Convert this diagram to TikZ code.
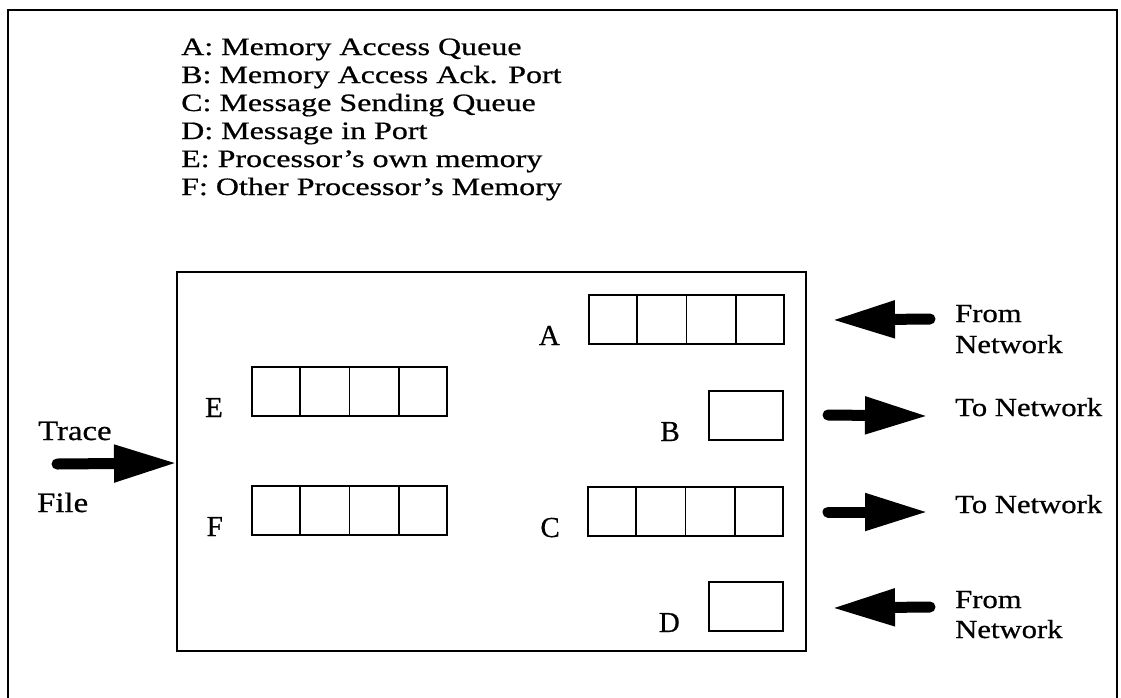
\documentclass[tikz,border=0pt]{standalone}
\usepackage{fontspec}
\setmainfont[FakeBold=0.6]{Liberation Serif}
\usepackage{graphicx}
\usetikzlibrary{calc,arrows.meta}
\tikzset{
  frameline/.style={line width=1.8pt},
  queue/.style={draw, line width=1.9pt, minimum width=195pt, minimum height=49pt, inner sep=0pt, anchor=south west},
  port/.style={draw, line width=1.9pt, minimum width=74pt, minimum height=49pt, inner sep=0pt, anchor=south west},
  cellline/.style={line width=1.7pt},
  legend/.style={anchor=base west, inner sep=0pt, font=\fontsize{25}{28}\selectfont},
  lbl/.style={anchor=base east, inner sep=0pt, font=\fontsize{29}{32}\selectfont},
  side/.style={anchor=base west, inner sep=0pt, font=\fontsize{28}{32}\selectfont},
  net/.style={anchor=base west, inner sep=0pt, font=\fontsize{26}{30}\selectfont},
  fat/.style={line width=11pt, line cap=round, -{Triangle[length=63pt,width=35pt]}},
}
\newcommand{\lx}[1]{\scalebox{1.28}[1]{#1}}
\newcommand{\sx}[1]{\scalebox{1.17}[1]{#1}}
\newcommand{\nx}[1]{\scalebox{1.18}[1]{#1}}
\begin{document}
\begin{tikzpicture}[x=1pt,y=-1pt]
\useasboundingbox (0,0) rectangle (1121,697);
% outer frame (open at the bottom edge of the picture)
\draw[frameline] (8,705) -- (8,10) -- (1117,10) -- (1117,705);

% legend
\node[legend] (l1) at (181,55)  {\lx{A: Memory Access Queue}};
\node[legend] (l2) at (181,83)  {\lx{B: Memory Access Ack. Port}};
\node[legend] (l3) at (181,111) {\lx{C: Message Sending Queue}};
\node[legend] (l4) at (181,139) {\lx{D: Message in Port}};
\node[legend] (l5) at (181,167) {\lx{E: Processor's own memory}};
\node[legend] (l6) at (181,195) {\lx{F: Other Processor's Memory}};

% processor box
\draw[line width=2pt] (177,272) rectangle (806,651);
\coordinate (inwest) at (177,463);

% queues and ports
\node[queue] (qa) at (588,345) {};
\node[port]  (qb) at (708,441) {};
\node[queue] (qc) at (587,537) {};
\node[port]  (qd) at (708,632) {};
\node[queue] (qe) at (251,417) {};
\node[queue] (qf) at (251,536) {};
\foreach \n in {qa,qc,qe,qf}
  \foreach \i in {1,2,3}
    \draw[cellline] ($(\n.north west)!\i/4!(\n.north east)$) -- ($(\n.south west)!\i/4!(\n.south east)$);

% labels
\node[lbl] (la) at ($(qa.south west)+(-28,0)$) {A};
\node[lbl] (lb) at ($(qb.south west)+(-28,0)$) {B};
\node[lbl] (lc) at ($(qc.south west)+(-27,0)$) {C};
\node[lbl] (ld) at ($(qd.south west)+(-28,0)$) {D};
\node[lbl] (le) at ($(qe.south west)+(-28,0)$) {E};
\node[lbl] (lf) at ($(qf.south west)+(-28,0)$) {F};

% trace file input
\node[side] (trace) at (38,440) {\sx{Trace}};
\node[side] (file)  at (37,512) {\sx{File}};
\coordinate (ts) at (57,464);
\draw[fat] (ts) -- (inwest);

% network arrows
\coordinate (a1s) at (930,319);  \coordinate (a1e) at (832,320);
\coordinate (a2s) at (828,415);  \coordinate (a2e) at (928,416);
\coordinate (a3s) at (828,512);  \coordinate (a3e) at (928,512);
\coordinate (a4s) at (930,607);  \coordinate (a4e) at (832,608);
\draw[fat] (a1s) -- (a1e);
\draw[fat] (a2s) -- (a2e);
\draw[fat] (a3s) -- (a3e);
\draw[fat] (a4s) -- (a4e);

\node[net] (n1a) at (955,322) {\nx{From}};
\node[net] (n1b) at (955,353) {\nx{Network}};
\node[net] (n2)  at (955,416) {\nx{To Network}};
\node[net] (n3)  at (955,513) {\nx{To Network}};
\node[net] (n4a) at (955,608) {\nx{From}};
\node[net] (n4b) at (955,638) {\nx{Network}};
\end{tikzpicture}
\end{document}
